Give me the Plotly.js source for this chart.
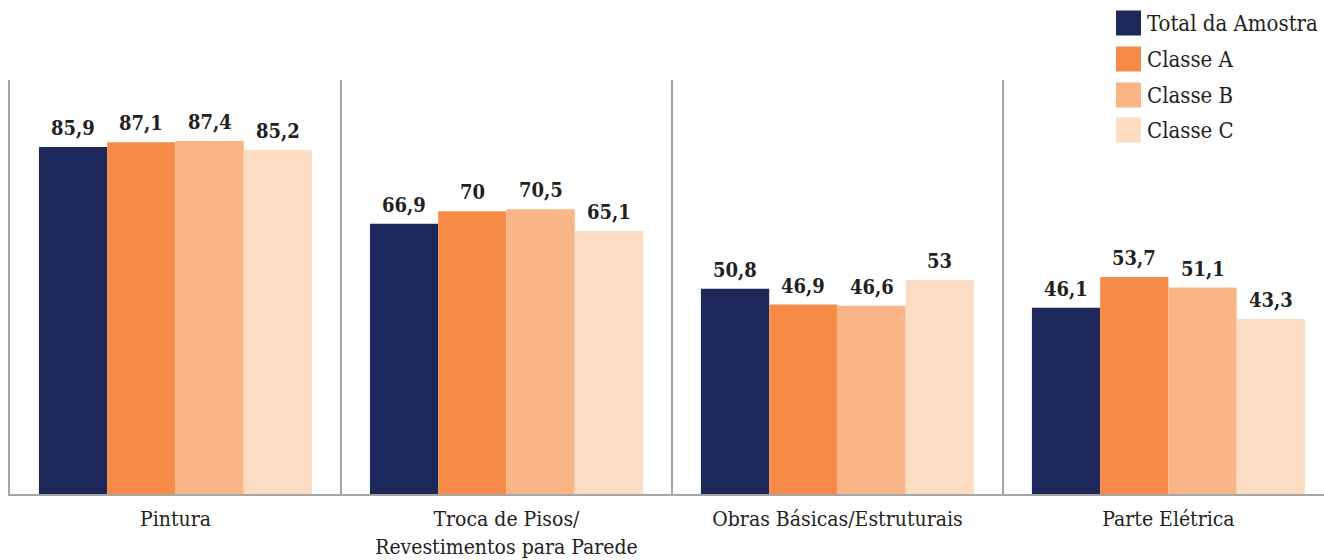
<!DOCTYPE html>
<html>
<head>
<meta charset="utf-8">
<script src="https://cdn.plot.ly/plotly-3.0.1.min.js"></script>
<style>html,body{margin:0;padding:0;background:#fff;}#chart{width:1324px;height:560px;}</style>
</head>
<body>
<div id="chart"></div>
<script>
const categories = ['Pintura', 'Troca de Pisos/<br>Revestimentos para Parede', 'Obras Básicas/Estruturais', 'Parte Elétrica'];
const seriesNames = ['Total da Amostra', 'Classe A', 'Classe B', 'Classe C'];
const totalAmostra = [85.9, 66.9, 50.8, 46.1];
const classeA = [87.1, 70, 46.9, 53.7];
const classeB = [87.4, 70.5, 46.6, 51.1];
const classeC = [85.2, 65.1, 53, 43.3];
const seriesColors = ['#1e285a', '#f68b47', '#f9b586', '#fddcc4'];

const seriesValues = [totalAmostra, classeA, classeB, classeC];
const fmt = v => String(v).replace('.', ',');
const SERIF = 'DejaVu Serif, serif';
const SERIF_C = 'DejaVu Serif Condensed, DejaVu Serif, serif';
const BARGAP = 0.175;

const traces = seriesValues.map((vals, i) => ({
  type: 'bar',
  name: seriesNames[i],
  x: categories,
  y: vals,
  marker: {color: seriesColors[i], line: {width: 0}},
  showlegend: false,
  hoverinfo: 'x+y'
}));

const W = 1324, H = 560, mL = 10, mR = 0, mT = 80, mB = 66;
const pw = W - mL - mR, ph = H - mT - mB;
const px2x = p => (p - mL) / pw;
const py2y = p => (H - mB - p) / ph;
const shapes = [];
const annotations = [];

// value labels above each bar
const nS = seriesValues.length;
const bw = (1 - BARGAP) / nS;
seriesValues.forEach((vals, i) => {
  vals.forEach((v, c) => {
    annotations.push({xref: 'x', yref: 'y', x: c + (i - (nS - 1) / 2) * bw, y: v,
      xanchor: 'center', yanchor: 'bottom', yshift: 5, text: '<b>' + fmt(v) + '</b>', showarrow: false,
      font: {family: SERIF_C, size: 20, color: '#231f20'}});
  });
});

// manual legend (large square swatches)
const legRows = [23, 59, 95, 130];
seriesNames.forEach((n, i) => {
  const cy = legRows[i];
  shapes.push({type: 'rect', xref: 'paper', yref: 'paper',
    x0: px2x(1116), x1: px2x(1141), y0: py2y(cy + 12.5), y1: py2y(cy - 12.5),
    fillcolor: seriesColors[i], line: {width: 0}});
  annotations.push({xref: 'paper', yref: 'paper', x: px2x(1145), y: py2y(cy),
    xanchor: 'left', yanchor: 'middle', text: n, showarrow: false,
    font: {family: SERIF_C, size: 22, color: '#231f20'}});
});

const layout = {
  width: W, height: H,
  margin: {l: mL, r: mR, t: mT, b: mB, pad: 0},
  paper_bgcolor: '#fff', plot_bgcolor: '#fff',
  barmode: 'group', bargap: BARGAP, bargroupgap: 0,
  showlegend: false,
  font: {family: SERIF, color: '#231f20'},
  xaxis: {
    type: 'category', range: [-0.5, 3.47], tickson: 'boundaries',
    showgrid: true, gridcolor: '#a6a6a6', gridwidth: 2,
    ticks: '', showline: true, linecolor: '#a6a6a6', linewidth: 2,
    ticklabelstandoff: 5,
    tickfont: {family: SERIF_C, size: 21, color: '#231f20'},
    fixedrange: true
  },
  yaxis: {
    range: [0, 102.5], showgrid: false, zeroline: false, showticklabels: false,
    ticks: '', showline: true, linecolor: '#a6a6a6', linewidth: 2, fixedrange: true
  },
  shapes: shapes,
  annotations: annotations
};

Plotly.newPlot('chart', traces, layout, {displayModeBar: false, staticPlot: true});
</script>
</body>
</html>
